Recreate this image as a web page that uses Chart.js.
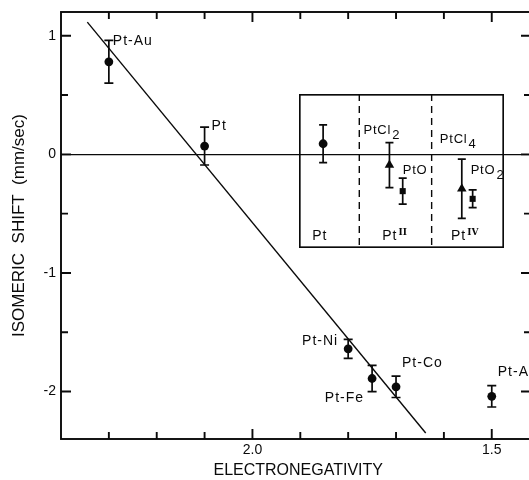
<!DOCTYPE html>
<html>
<head>
<meta charset="utf-8">
<script src="https://cdn.jsdelivr.net/npm/chart.js@4.4.1/dist/chart.umd.min.js"></script>
<style>
  html, body { margin: 0; padding: 0; background: #fff; overflow: hidden; }
  #wrap { position: relative; width: 545px; height: 480px; }
  #main { position: absolute; left: 0; top: 0; }
  #inset { position: absolute; left: 299px; top: 94px; }
</style>
</head>
<body>
<div id="wrap">
  <canvas id="main" width="545" height="480"></canvas>
  <canvas id="inset" width="205" height="154"></canvas>
</div>
<script>
// main plot: isomeric shift of Pt in alloys vs electronegativity of partner
const alloys = ['Pt-Au', 'Pt', 'Pt-Ni', 'Pt-Fe', 'Pt-Co', 'Pt-Al'];
const electroneg = [2.30, 2.10, 1.80, 1.75, 1.70, 1.50];
const shift = [0.78, 0.07, -1.64, -1.89, -1.96, -2.04];
const shiftErr = [0.18, 0.16, 0.08, 0.11, 0.09, 0.09];

// straight line through the alloys, end points
const fitX = [2.345, 1.638];
const fitY = [1.115, -2.35];

const xTicks = [2.3, 2.2, 2.1, 2.0, 1.9, 1.8, 1.7, 1.6, 1.5];
const xTickLabels = ['', '', '', '2.0', '', '', '', '', '1.5'];
const yTicks = [-2, -1.5, -1, -0.5, 0, 0.5, 1];
const yTickLabels = ['-2', '', '-1', '', '0', '', '1'];

// inset: compounds grouped by oxidation state (Pt, Pt II, Pt IV)
const compoundBase = ['', 'PtCl', 'PtO', 'PtCl', 'PtO'];
const compoundSub = ['', '2', '', '4', '2'];
const compoundPos = [2.0, 7.5, 8.6, 13.5, 14.4];
const compoundShift = [0.08, -0.10, -0.32, -0.30, -0.385];
const compoundErr = [0.16, 0.19, 0.11, 0.25, 0.075];
const compoundMarker = ['circle', 'triangle', 'rect', 'triangle', 'rect'];
const groupNames = ['Pt', 'Pt', 'Pt'];
const groupStates = ['', 'II', 'IV'];
const groupEdges = [5, 11];

// label placement (pixels from the point / inset units), not data
const alloyLabelOffset = [[4, -21, 'left'], [7, -20, 'left'], [-10, -8, 'right'],
                          [-8, 20, 'right'], [6, -24, 'left'], [6, -24, 'left']];
const compoundLabelOffset = [[0, 0], [-26, -35], [0, -21], [-22, -49], [-2, -28]];
const groupLabelX = [1.1, 6.9, 12.6];

const ink = '#0a0a0a';
const sans = '"Liberation Sans", Arial, sans-serif';

Chart.defaults.font.family = sans;
Chart.defaults.color = ink;

function errorBars(chart, values, errs, cap) {
    const ctx = chart.ctx;
    const y = chart.scales.y;
    const pts = chart.getDatasetMeta(0).data;
    ctx.save();
    ctx.strokeStyle = ink;
    ctx.lineWidth = 1.7;
    pts.forEach((p, i) => {
        const top = y.getPixelForValue(values[i] + errs[i]);
        const bot = y.getPixelForValue(values[i] - errs[i]);
        ctx.beginPath();
        ctx.moveTo(p.x, top); ctx.lineTo(p.x, bot);
        ctx.moveTo(p.x - cap, top); ctx.lineTo(p.x + cap, top);
        ctx.moveTo(p.x - cap, bot); ctx.lineTo(p.x + cap, bot);
        ctx.stroke();
    });
    ctx.restore();
}

const mainDecor = {
    id: 'mainDecor',
    afterDatasetsDraw(chart) {
        const {ctx, chartArea: a, scales: {x, y}} = chart;
        errorBars(chart, shift, shiftErr, 4.5);

        ctx.save();
        ctx.strokeStyle = ink;
        ctx.lineWidth = 1.9;
        ctx.strokeRect(a.left, a.top, a.right - a.left, a.bottom - a.top);

        // inward ticks on all four sides
        ctx.beginPath();
        xTicks.forEach((v, i) => {
            const px = x.getPixelForValue(v);
            const len = xTickLabels[i] ? 10 : 7;
            ctx.moveTo(px, a.bottom); ctx.lineTo(px, a.bottom - len);
            ctx.moveTo(px, a.top); ctx.lineTo(px, a.top + len);
        });
        yTicks.forEach((v, i) => {
            const py = y.getPixelForValue(v);
            const len = yTickLabels[i] ? 10 : 7;
            ctx.moveTo(a.left, py); ctx.lineTo(a.left + len, py);
            ctx.moveTo(a.right, py); ctx.lineTo(a.right - len, py);
        });
        ctx.stroke();

        // alloy names next to their points
        ctx.fillStyle = ink;
        ctx.font = '14px ' + sans;
        ctx.letterSpacing = '1px';
        ctx.textBaseline = 'middle';
        const pts = chart.getDatasetMeta(0).data;
        alloys.forEach((name, i) => {
            const [dx, dy, align] = alloyLabelOffset[i];
            ctx.textAlign = align;
            ctx.fillText(name, pts[i].x + dx, pts[i].y + dy);
        });
        ctx.restore();
    }
};

new Chart(document.getElementById('main'), {
    type: 'scatter',
    data: {
        datasets: [
            {
                label: 'alloys',
                data: electroneg.map((v, i) => ({x: v, y: shift[i]})),
                pointRadius: 4.4,
                pointBackgroundColor: ink,
                pointBorderWidth: 0
            },
            {
                label: 'fit',
                type: 'line',
                data: fitX.map((v, i) => ({x: v, y: fitY[i]})),
                borderColor: ink,
                borderWidth: 1.4,
                pointRadius: 0,
                fill: false
            }
        ]
    },
    options: {
        responsive: false,
        animation: false,
        devicePixelRatio: 1,
        layout: { padding: { left: 0, top: 12, right: 14, bottom: 0 }, autoPadding: false },
        plugins: { legend: { display: false }, tooltip: { enabled: false } },
        scales: {
            x: {
                type: 'linear',
                reverse: true,
                min: 1.418,
                max: 2.40,
                afterBuildTicks: s => { s.ticks = xTicks.map(v => ({value: v})); },
                afterFit: s => { s.height = 41; s.paddingLeft = 0; s.paddingRight = 0; },
                ticks: {
                    callback: (v, i) => xTickLabels[i],
                    font: { size: 14 },
                    padding: 3,
                    maxRotation: 0,
                    autoSkip: false
                },
                grid: { display: false, drawTicks: false },
                border: { display: false },
                title: {
                    display: true,
                    text: ' ELECTRONEGATIVITY',
                    font: { size: 16 },
                    padding: { top: 0, bottom: 0 }
                }
            },
            y: {
                min: -2.4,
                max: 1.2,
                afterBuildTicks: s => { s.ticks = yTicks.map(v => ({value: v})); },
                afterFit: s => { s.width = 61; s.paddingTop = 0; s.paddingBottom = 0; },
                ticks: {
                    callback: (v, i) => yTickLabels[i],
                    font: { size: 14 },
                    padding: 5,
                    autoSkip: false
                },
                grid: {
                    color: c => (c.tick && c.tick.value === 0) ? ink : 'rgba(0,0,0,0)',
                    lineWidth: 1.2,
                    drawTicks: false
                },
                border: { display: false },
                title: {
                    display: true,
                    text: 'ISOMERIC  SHIFT  (mm/sec)',
                    font: { size: 17 },
                    padding: { top: 9, bottom: 0 }
                }
            }
        }
    },
    plugins: [mainDecor]
});

const insetDecor = {
    id: 'insetDecor',
    afterDatasetsDraw(chart) {
        const {ctx, chartArea: a, scales: {x}} = chart;
        errorBars(chart, compoundShift, compoundErr, 4);

        ctx.save();
        ctx.strokeStyle = ink;
        ctx.lineWidth = 1.7;
        ctx.strokeRect(a.left + 0.8, a.top + 0.8, a.right - a.left - 1.6, a.bottom - a.top - 1.6);

        ctx.setLineDash([7, 5]);
        ctx.lineWidth = 1.4;
        ctx.beginPath();
        groupEdges.forEach(v => {
            const px = x.getPixelForValue(v);
            ctx.moveTo(px, a.top); ctx.lineTo(px, a.bottom);
        });
        ctx.stroke();
        ctx.setLineDash([]);

        ctx.fillStyle = ink;
        ctx.textBaseline = 'middle';
        ctx.textAlign = 'left';
        const pts = chart.getDatasetMeta(0).data;
        compoundBase.forEach((base, i) => {
            if (!base) return;
            const [dx, dy] = compoundLabelOffset[i];
            const lx = pts[i].x + dx, ly = pts[i].y + dy;
            ctx.font = '13px ' + sans;
            ctx.letterSpacing = '0.8px';
            ctx.fillText(base, lx, ly);
            if (compoundSub[i]) {
                const w = ctx.measureText(base).width;
                ctx.fillText(compoundSub[i], lx + w + 1, ly + 5);
            }
        });

        // oxidation state labels along the bottom
        ctx.textBaseline = 'alphabetic';
        groupNames.forEach((name, i) => {
            const lx = x.getPixelForValue(groupLabelX[i]);
            const ly = a.bottom - 8;
            ctx.font = '14px ' + sans;
            ctx.letterSpacing = '1px';
            ctx.fillText(name, lx, ly);
            if (groupStates[i]) {
                const w = ctx.measureText(name).width;
                ctx.font = 'bold 9px "DejaVu Serif", serif';
                ctx.letterSpacing = '0px';
                ctx.fillText(groupStates[i], lx + w + 1, ly - 5);
            }
        });
        ctx.restore();
    }
};

new Chart(document.getElementById('inset'), {
    type: 'scatter',
    data: {
        datasets: [{
            label: 'compounds',
            data: compoundPos.map((v, i) => ({x: v, y: compoundShift[i]})),
            pointStyle: compoundMarker,
            pointRadius: [4.4, 5.5, 4.3, 5.5, 4.3],
            pointBackgroundColor: ink,
            pointBorderColor: ink,
            pointBorderWidth: 0
        }]
    },
    options: {
        responsive: false,
        animation: false,
        devicePixelRatio: 1,
        layout: { padding: 0, autoPadding: false },
        plugins: { legend: { display: false }, tooltip: { enabled: false } },
        scales: {
            x: { type: 'linear', display: false, min: 0, max: 17 },
            y: { display: false, min: -0.8, max: 0.5 }
        }
    },
    plugins: [insetDecor]
});
</script>
</body>
</html>
